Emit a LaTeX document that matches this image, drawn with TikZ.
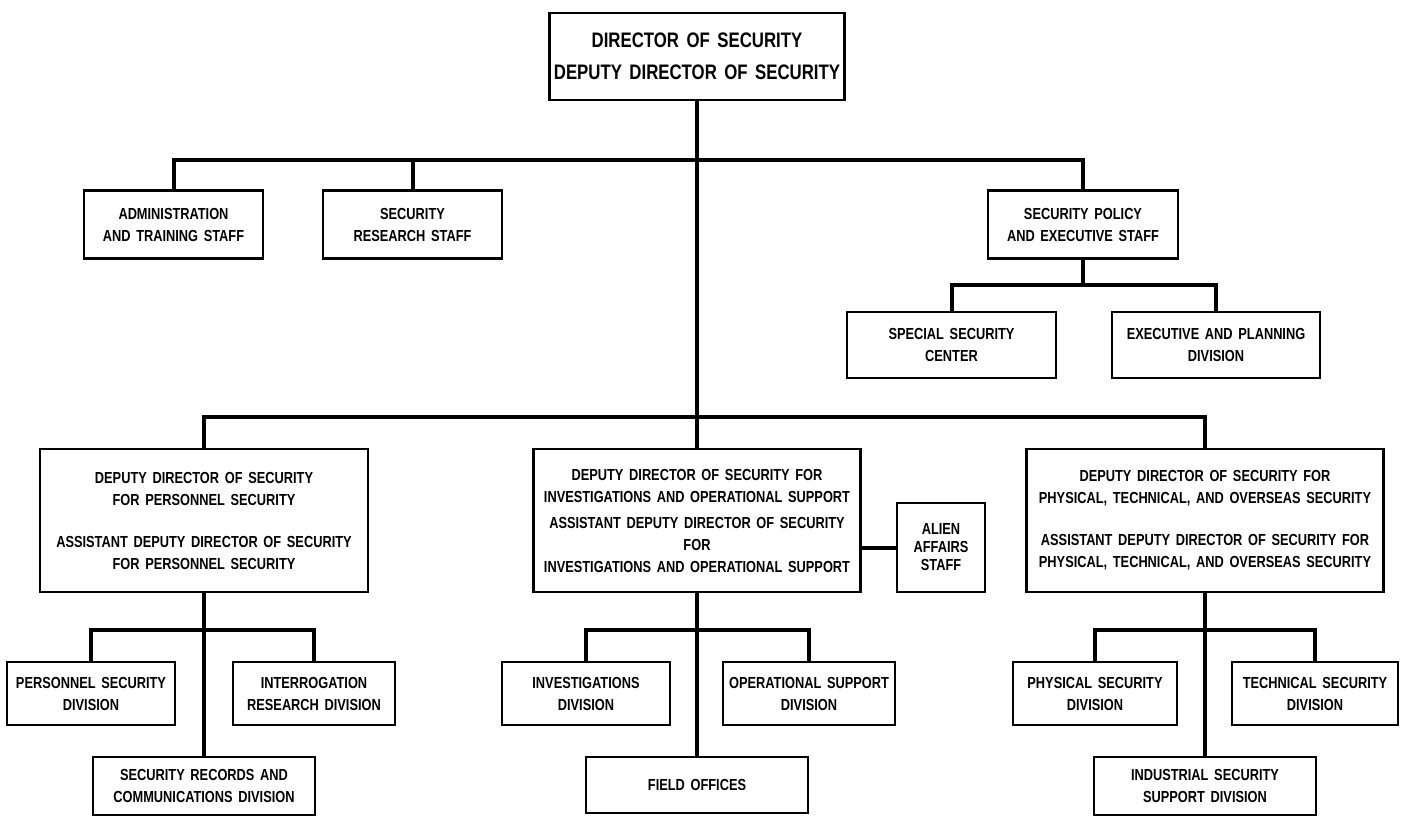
\documentclass[tikz,border=0pt]{standalone}
\usepackage{fontspec}
\newfontfamily\orgfont[FakeStretch=0.8,WordSpace=1.6]{Liberation Sans}
\usetikzlibrary{positioning}

\begin{document}
\begin{tikzpicture}[x=1pt,y=1pt,
  box/.style={draw,line width=2.2pt,align=center,inner sep=0pt,
    font=\orgfont\bfseries\fontsize{16}{22}\selectfont},
  link/.style={line width=4pt}]
\useasboundingbox (0,0) rectangle (1401,-818);

\node[box,minimum width=295pt,minimum height=87pt,
  font=\orgfont\bfseries\fontsize{21}{32}\selectfont] (DIR) at (697,-56.5)
  {DIRECTOR OF SECURITY\\DEPUTY DIRECTOR OF SECURITY};

\node[box,minimum width=179pt,minimum height=68pt] (ADM) at (173.5,-224.5) {ADMINISTRATION\\AND TRAINING STAFF};
\node[box,minimum width=179pt,minimum height=68pt] (RES) at (412.5,-224.5) {SECURITY\\RESEARCH STAFF};
\node[box,minimum width=190pt,minimum height=68pt] (POL) at (1083,-224.5) {SECURITY POLICY\\AND EXECUTIVE STAFF};
\node[box,minimum width=209pt,minimum height=66pt] (SSC) at (951.5,-345) {SPECIAL SECURITY\\CENTER};
\node[box,minimum width=208pt,minimum height=66pt] (EPD) at (1216,-345) {EXECUTIVE AND PLANNING\\DIVISION};

\node[box,minimum width=328pt,minimum height=143pt] (DPS) at (204,-520.5)
  {DEPUTY DIRECTOR OF SECURITY\\FOR PERSONNEL SECURITY\\[20pt]
   ASSISTANT DEPUTY DIRECTOR OF SECURITY\\FOR PERSONNEL SECURITY};
\node[box,minimum width=327pt,minimum height=143pt] (DIO) at (697,-520.5)
  {DEPUTY DIRECTOR OF SECURITY FOR\\INVESTIGATIONS AND OPERATIONAL SUPPORT\\[4pt]
   ASSISTANT DEPUTY DIRECTOR OF SECURITY\\FOR\\INVESTIGATIONS AND OPERATIONAL SUPPORT};
\node[box,minimum width=88pt,minimum height=89pt,
  font=\orgfont\bfseries\fontsize{16}{18}\selectfont] (AAS) at (941,-547.5) {ALIEN\\AFFAIRS\\STAFF};
\node[box,minimum width=357pt,minimum height=143pt] (DPT) at (1205,-520.5)
  {DEPUTY DIRECTOR OF SECURITY FOR\\PHYSICAL, TECHNICAL, AND OVERSEAS SECURITY\\[20pt]
   ASSISTANT DEPUTY DIRECTOR OF SECURITY FOR\\PHYSICAL, TECHNICAL, AND OVERSEAS SECURITY};

\node[box,minimum width=168pt,minimum height=63pt] (PSD) at (91,-693.5) {PERSONNEL SECURITY\\DIVISION};
\node[box,minimum width=162pt,minimum height=63pt] (IRD) at (314,-693.5) {INTERROGATION\\RESEARCH DIVISION};
\node[box,minimum width=222pt,minimum height=58pt] (SRC) at (204,-786) {SECURITY RECORDS AND\\COMMUNICATIONS DIVISION};
\node[box,minimum width=168pt,minimum height=63pt] (INV) at (586,-693.5) {INVESTIGATIONS\\DIVISION};
\node[box,minimum width=172pt,minimum height=63pt] (OSD) at (809,-693.5) {OPERATIONAL SUPPORT\\DIVISION};
\node[box,minimum width=222pt,minimum height=56pt] (FO) at (697,-785) {FIELD OFFICES};
\node[box,minimum width=164pt,minimum height=63pt] (PHY) at (1095,-693.5) {PHYSICAL SECURITY\\DIVISION};
\node[box,minimum width=166pt,minimum height=63pt] (TEC) at (1315,-693.5) {TECHNICAL SECURITY\\DIVISION};
\node[box,minimum width=222pt,minimum height=58pt] (ISS) at (1205,-786) {INDUSTRIAL SECURITY\\SUPPORT DIVISION};

\coordinate (UP) at (697,-160);
\coordinate (PB) at (1083,-285);
\coordinate (LOW) at (697,-417);
\coordinate (SL) at (204,-630);
\coordinate (SM) at (697,-630);
\coordinate (SR) at (1205,-630);

\draw[link] (DIR.south) -- (DIO.north);
\draw[link] (ADM.north) |- (UP) -| (POL.north);
\draw[link] (RES.north) -- (RES.north |- UP);
\draw[link] (POL.south) -- (PB);
\draw[link] (SSC.north) |- (PB) -| (EPD.north);
\draw[link] (DPS.north) |- (LOW) -| (DPT.north);
\draw[link] (AAS.west -| DIO.east) -- (AAS.west);

\draw[link] (DPS.south) -- (SRC.north);
\draw[link] (PSD.north) |- (SL) -| (IRD.north);
\draw[link] (DIO.south) -- (FO.north);
\draw[link] (INV.north) |- (SM) -| (OSD.north);
\draw[link] (DPT.south) -- (ISS.north);
\draw[link] (PHY.north) |- (SR) -| (TEC.north);

\end{tikzpicture}
\end{document}
